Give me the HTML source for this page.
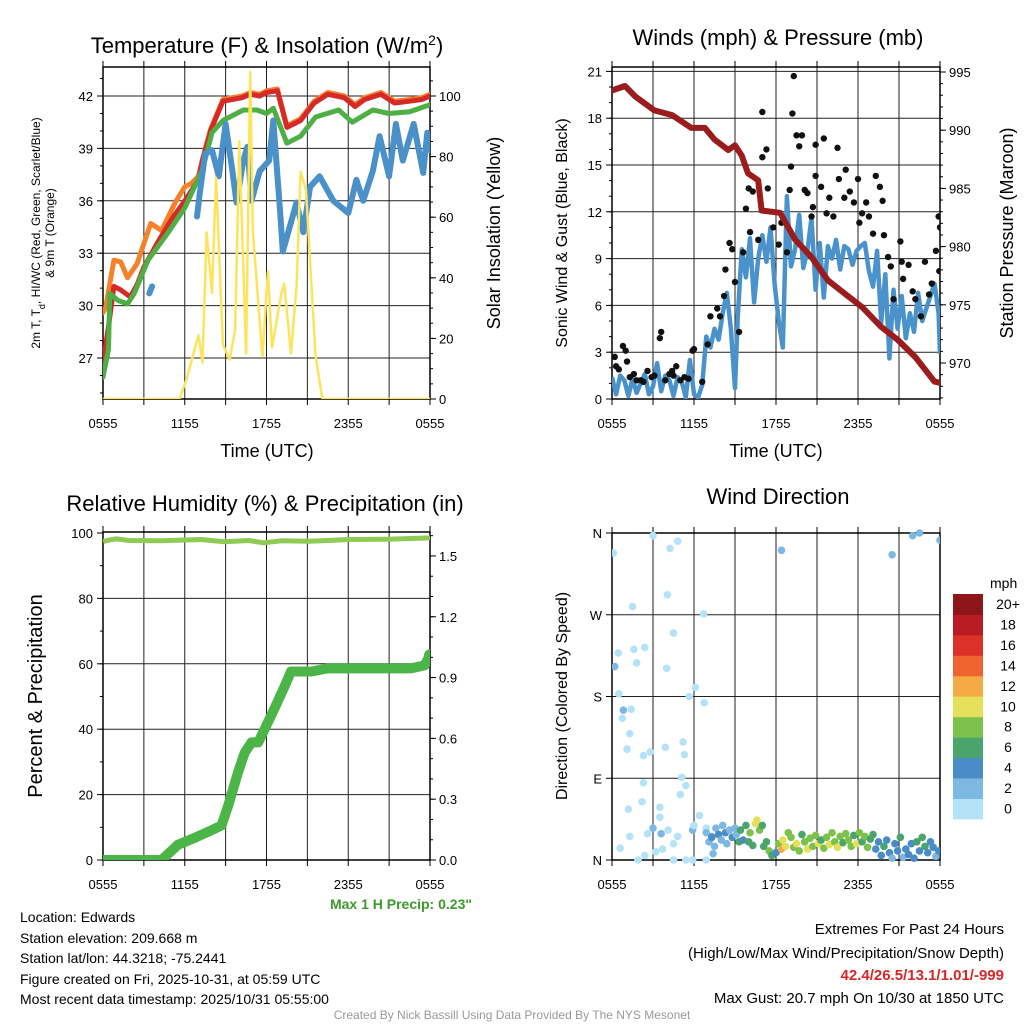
<!DOCTYPE html>
<html><head><meta charset="utf-8">
<style>
html,body{margin:0;padding:0;background:#fff;}
svg{display:block;font-family:"Liberation Sans",Arial,sans-serif;}
</style></head>
<body>
<svg id="fig" width="1024" height="1024" viewBox="0 0 1024 1024" xmlns="http://www.w3.org/2000/svg">
<defs>
<clipPath id="c1"><rect x="103" y="67" width="327" height="332"/></clipPath>
<clipPath id="c2"><rect x="612" y="67" width="328" height="332"/></clipPath>
<clipPath id="c3"><rect x="103" y="532" width="327" height="328"/></clipPath>
<clipPath id="c4"><rect x="612" y="528" width="328" height="336"/></clipPath>
</defs>
<text x="267" y="53" font-size="22" text-anchor="middle">Temperature (F) &amp; Insolation (W/m<tspan baseline-shift="super" font-size="14">2</tspan>)</text>
<text x="778" y="45" font-size="22" text-anchor="middle">Winds (mph) &amp; Pressure (mb)</text>
<text x="265" y="511" font-size="22" text-anchor="middle">Relative Humidity (%) &amp; Precipitation (in)</text>
<text x="778" y="504" font-size="22" text-anchor="middle">Wind Direction</text>

<text transform="translate(40,233) rotate(-90)" font-size="12" text-anchor="middle">2m T, T<tspan baseline-shift="sub" font-size="9">d</tspan>, HI/WC (Red, Green, Scarlet/Blue)</text>
<text transform="translate(54,233) rotate(-90)" font-size="12" text-anchor="middle">&amp; 9m T (Orange)</text>
<text transform="translate(500,233) rotate(-90)" font-size="18" text-anchor="middle">Solar Insolation (Yellow)</text>
<text x="267" y="457" font-size="18" text-anchor="middle">Time (UTC)</text>
<text transform="translate(567,233) rotate(-90)" font-size="16" text-anchor="middle">Sonic Wind &amp; Gust (Blue, Black)</text>
<text transform="translate(1013,233) rotate(-90)" font-size="18" text-anchor="middle">Station Pressure (Maroon)</text>
<text x="776" y="457" font-size="18" text-anchor="middle">Time (UTC)</text>
<text transform="translate(42,696) rotate(-90)" font-size="20" text-anchor="middle">Percent &amp; Precipitation</text>
<text transform="translate(567,696) rotate(-90)" font-size="16" text-anchor="middle">Direction (Colored By Speed)</text>

<text x="472" y="909" font-size="14" font-weight="bold" fill="#3a9a2a" text-anchor="end">Max 1 H Precip: 0.23"</text>
<g font-size="14">
<text x="20" y="922">Location: Edwards</text>
<text x="20" y="943">Station elevation: 209.668 m</text>
<text x="20" y="963">Station lat/lon: 44.3218; -75.2441</text>
<text x="20" y="984">Figure created on Fri, 2025-10-31, at 05:59 UTC</text>
<text x="20" y="1004">Most recent data timestamp: 2025/10/31 05:55:00</text>
</g>
<g font-size="15" text-anchor="end">
<text x="1004" y="934">Extremes For Past 24 Hours</text>
<text x="1004" y="958">(High/Low/Max Wind/Precipitation/Snow Depth)</text>
<text x="1004" y="980" font-weight="bold" fill="#d62728">42.4/26.5/13.1/1.01/-999</text>
<text x="1004" y="1003">Max Gust: 20.7 mph On 10/30 at 1850 UTC</text>
</g>
<text x="512" y="1019" font-size="12" fill="#999" text-anchor="middle">Created By Nick Bassill Using Data Provided By The NYS Mesonet</text>
<g id="layer"></g>
</svg>
<script>
// ---- data (hours since 05:55 UTC) ----
const timeTicks = ["0555","1155","1755","2355","0555"];
const tempTicks = [27,30,33,36,39,42];
const solarTicks = [0,20,40,60,80,100];
const windTicks = [0,3,6,9,12,15,18,21];
const presTicks = [970,975,980,985,990,995];
const rhTicks = [0,20,40,60,80,100];
const precipTicks = [0.0,0.3,0.6,0.9,1.2,1.5];
const dirTicks = ["N","E","S","W","N"];

const orangeT = [0,0.2,0.8,1.3,1.8,2.5,3.5,4.3,5.3,6.0,6.5,7.0,7.3,7.9,8.8,9.5,10.2,10.8,11.5,12.0,12.8,13.5,14.5,15.5,16.5,17.7,18.5,19.2,20.4,21.4,22.5,23.4,24];
const orangeV = [29.6,29.9,32.6,32.5,31.6,32.4,34.7,34.3,35.9,36.8,37.0,37.4,38.4,40.1,41.8,41.9,42.0,42.2,42.1,42.3,42.4,40.3,40.7,41.7,42.2,42.0,41.5,41.9,42.2,41.7,41.8,41.9,42.1];
const redT = [0,0.4,0.8,1.3,2.0,2.5,3.0,4.0,5.0,6.0,7.0,7.3,7.9,8.8,9.5,10.2,10.8,11.5,12.0,12.8,13.5,14.5,15.5,16.5,17.7,18.5,19.2,20.4,21.4,22.5,23.4,24];
const redV = [26.7,28.8,31.1,30.9,30.5,31.2,32.2,33.6,34.9,36.0,37.2,38.3,40.0,41.7,41.8,41.9,42.1,42.0,42.2,42.3,40.2,40.6,41.6,42.1,41.9,41.4,41.8,42.1,41.6,41.7,41.8,42.0];
const greenT = [0,0.4,0.5,1.1,1.8,2.3,3.3,4.8,6.0,7.3,8.0,8.8,10.3,11.3,12.0,12.5,13.5,14.5,15.6,17.3,18.3,19.8,21.0,22.5,24];
const greenV = [25.9,27.5,30.7,30.3,30.1,30.7,32.6,34.2,35.6,37.8,39.9,40.6,41.2,41.2,41.0,41.3,39.3,39.7,40.8,41.2,40.5,41.2,41.0,41.1,41.5];
const chillT = [6.9,7.1,7.5,8.0,8.5,9.0,9.5,9.8,10.3,10.6,10.9,11.5,12.2,12.5,13.0,13.2,13.7,14.2,14.7,15.2,15.9,16.9,18.0,18.6,19.1,19.8,20.3,21.0,21.5,22.0,22.8,23.5,23.8,24];
const chillV = [35.1,36.4,38.7,38.9,37.4,40.4,37.7,35.9,38.3,39.1,36.0,37.7,38.3,40.6,35.4,33.1,34.5,35.9,34.2,36.8,37.4,36.0,35.3,37.2,36.0,37.7,39.7,37.4,40.4,38.3,40.4,37.6,39.9,38.9];
const chillBlipT = [3.4,3.6];
const chillBlipV = [30.7,31.1];
const solarT = [0,5.6,6.1,6.7,7.0,7.3,7.6,8.0,8.3,8.8,9.3,9.7,10.0,10.5,10.8,11.0,11.7,12.1,12.4,13.1,13.3,13.8,14.2,14.5,14.9,15.6,16.1,24];
const solarV = [0,0,6,16,21,12,55,35,73,18,13,23,85,15,108,55,14,42,17,35,38,15,37,75,69,14,0,0];

const sonicT = [0,0.3,0.6,0.9,1.2,1.5,1.8,2.1,2.4,2.7,3.0,3.3,3.6,3.9,4.2,4.5,4.8,5.1,5.4,5.7,6.0,6.3,6.6,6.9,7.2,7.5,7.8,8.1,8.4,8.7,9.0,9.2,9.5,9.8,10.1,10.4,10.7,11.0,11.3,11.6,11.9,12.2,12.5,12.8,13.1,13.4,13.7,14.0,14.3,14.6,14.9,15.2,15.5,15.8,16.1,16.4,16.7,17.0,17.3,17.6,17.9,18.2,18.5,18.8,19.1,19.4,19.7,20.0,20.3,20.6,20.9,21.2,21.5,21.8,22.1,22.4,22.7,23.0,23.3,23.6,23.9,24];
const sonicV = [1.4,0.3,1.5,1.2,0.2,1.3,0.4,1.0,1.6,0.3,0.8,2.3,0.5,1.5,1.2,0.2,1.4,1.1,0.1,2.5,0.3,0.1,0.9,4.0,3.3,4.5,3.8,5.5,6.8,4.5,0.7,5.2,9.6,7.8,10.3,6.2,9.0,10.5,8.8,11.0,7.4,5.0,3.3,13.0,8.5,9.6,11.8,8.4,9.5,11.6,7.0,10.0,6.5,9.8,9.0,10.2,8.3,9.8,9.6,8.6,9.5,9.8,10.0,8.2,7.2,9.5,4.9,8.0,2.6,7.0,4.5,6.6,3.9,5.5,4.3,6.8,5.0,5.8,6.6,7.4,5.5,2.9];
const gustT = [0.2,0.3,0.8,1.0,1.1,1.6,1.8,2.1,2.6,3.1,3.5,3.6,3.9,4.4,4.5,4.7,5.0,5.3,5.9,6.0,6.6,7.0,7.2,7.7,7.9,8.2,8.3,8.6,8.8,9.0,9.3,9.6,9.8,10.0,10.1,10.3,10.7,11.0,11.3,11.0,11.4,11.8,12.2,12.4,12.8,13.0,13.1,13.2,13.3,13.5,13.7,13.9,14.1,14.3,14.6,14.7,14.9,14.9,15.3,15.5,15.7,15.9,16.2,16.5,16.6,17.0,17.1,17.4,17.7,18.0,18.1,18.3,18.6,18.8,19.1,19.3,19.6,19.8,19.9,20.2,20.4,20.6,21.1,21.2,21.3,21.7,22.0,22.2,22.6,22.9,23.2,23.4,23.7,23.9,24.0,23.95,0.5,1.3,2.3,2.9,4.2,5.6];
const gustV = [2.7,2.1,3.4,3.1,2.4,1.6,1.2,1.2,1.8,1.5,3.9,4.3,1.2,1.8,1.5,2.1,1.2,1.4,3.1,3.2,1.1,3.5,5.3,5.8,5.3,6.6,8.3,10.0,9.6,7.5,4.3,9.4,12.2,13.5,10.7,13.3,10.2,15.5,16.0,18.4,13.5,11.0,9.9,11.3,9.4,13.4,14.9,18.3,20.7,16.9,16.2,16.9,13.4,13.2,11.7,12.3,16.3,14.3,13.6,16.7,11.9,12.9,11.7,16.1,14.1,12.9,14.7,13.3,12.6,14.1,11.3,11.9,12.6,11.7,10.6,14.3,13.6,12.7,10.5,9.1,8.5,6.4,10.1,8.8,7.7,8.6,6.9,6.4,5.3,8.8,6.7,7.4,9.5,11.7,11.0,8.2,1.9,1.4,1.1,1.4,1.6,1.3];
const presT = [0,0.2,0.95,1.7,3.1,4.4,5.8,6.8,7.5,8.5,9.0,9.5,9.95,10.7,10.95,12.3,13.4,14.6,15.8,17.0,18.3,19.7,20.9,22.2,23.6,24];
const presV = [993.4,993.5,993.8,992.9,991.7,991.3,990.2,990.2,989.2,988.3,988.7,987.8,986.3,985.7,983.1,982.9,980.6,979.1,977.1,976.0,974.8,973.1,972.0,970.5,968.4,968.3];

const rhT = [0,0.5,1.0,1.9,4.3,7.2,8.9,10.7,11.8,13.1,15.1,16.5,18.0,20.9,24];
const rhV = [97.4,97.9,98.2,97.7,97.6,98.0,97.3,97.7,97.0,97.6,97.5,97.7,98.0,98.1,98.5];
const precipT = [0,4.3,5.5,6.75,8.0,8.7,9.2,9.9,10.4,10.9,11.4,11.9,12.6,13.35,13.8,15.3,16.5,22.6,23.6,24];
const precipV = [0,0,0.075,0.11,0.148,0.17,0.27,0.43,0.53,0.58,0.58,0.65,0.75,0.86,0.93,0.93,0.945,0.945,0.96,1.01];

const dirT = [0.1,3.0,4.24,4.8,4.05,1.5,6.7,4.5,0.46,1.6,2.4,0.2,4.0,1.8,6.1,0.5,5.65,6.75,0.83,1.4,0.76,1.3,1.1,2.3,2.8,3.9,5.2,5.3,5.1,5.4,2.3,5.0,2.2,1.2,3.5,3.5,6.4,3.0,2.6,3.6,4.1,4.8,4.5,1.3,0.6,2.4,1.9,3.2,3.7,4.5,5.4,5.9,6.9,5.9,6.0,6.9,7.3,7.4,12.4,20.5,22.0,22.5,24.0,
6.9,7.1,7.3,7.5,7.6,7.8,8.0,8.1,8.3,8.4,8.6,8.8,9.0,9.1,9.3,9.4,9.6,9.8,10.0,10.1,10.3,10.5,10.6,10.8,11.0,11.1,11.3,11.5,11.7,12.0,12.2,12.4,12.5,12.7,12.9,13.1,13.3,13.5,13.7,13.9,14.1,14.3,14.5,14.7,14.9,15.1,15.3,15.5,15.7,15.9,16.1,16.3,16.5,16.7,16.9,17.1,17.3,17.5,17.7,17.9,18.1,18.3,18.5,18.7,18.9,19.1,19.3,19.5,19.7,19.9,20.1,20.3,20.5,20.7,20.9,21.1,21.3,21.5,21.7,21.9,22.1,22.3,22.5,22.7,22.9,23.1,23.3,23.5,23.7,23.9];
const dirDeg = [338,357,343,351,292,279,271,250,228,232,234,213,211,217,190,183,180,173,165,166,156,139,122,115,119,124,130,116,91,82,85,72,64,56,58,47,49,35,29,29,33,26,18,26,13,5,0,9,12,0,0,0,0,33,38,35,26,7,341,336,357,360,352,
30,20,25,15,35,28,22,38,30,18,33,25,35,28,20,33,22,38,20,30,16,40,44,33,38,15,20,10,5,8,18,12,22,15,30,25,14,18,10,28,20,12,24,15,27,18,22,13,25,17,30,20,14,26,19,29,22,15,27,18,30,20,26,14,23,28,12,20,5,15,22,8,2,18,10,25,3,12,6,18,2,20,10,25,15,8,20,14,4,10];
const dirSpd = [1,1,1,1,1,1,1,1,1,1,1,3,1,1,1,1,1,1,3,1,1,1,1,1,1,1,1,1,1,1,1,1,1,1,1,1,1,3,1,3,1,1,1,1,1,1,1,1,1,1,1,1,1,3,1,1,3,3,3,3,3,3,3,
3,3,4,3,3,4,3,3,4,3,3,4,3,3,6,7,5,6,7,8,6,10,11,9,7,7,6,9,6,5,8,13,10,11,8,8,9,10,9,7,8,10,9,8,8,10,7,9,8,11,8,9,10,8,7,8,9,8,7,10,8,7,9,8,7,6,4,5,4,6,4,5,3,5,4,7,3,4,4,5,4,6,4,7,6,4,5,4,3,5];
const speedBinLabels = ["0","2","4","6","8","10","12","14","16","18","20+"];
const speedBinColors = ["#b4e3f8","#7db8e2","#4a8dc6","#4aa46b","#7bc14b","#e5e05a","#f6aa45","#ef642f","#dc3128","#ba1c24","#8e1519"];

// ---- helpers ----
const NS = "http://www.w3.org/2000/svg";
const layer = document.getElementById('layer');
function mk(tag, attrs, parent){
  const e = document.createElementNS(NS, tag);
  for (const k in attrs) e.setAttribute(k, attrs[k]);
  (parent||layer).appendChild(e);
  return e;
}
function makeX(x0,x1){ return h => x0 + h/24*(x1-x0); }
function pathFrom(ts, vs, sx, sy){
  let d = "";
  for (let i=0;i<ts.length && i<vs.length;i++) d += (i?"L":"M") + sx(ts[i]).toFixed(1) + "," + sy(vs[i]).toFixed(1);
  return d;
}
function frame(P){
  const g = mk('g', {});
  
  
  for (let h=3; h<24; h+=3){
    const x = P.sx(h);
    const l = mk('line', {x1:x, x2:x, y1:P.y0, y2:P.y1, stroke:'#222', 'stroke-width':1}, g);
    
    
  }
  for (let h=0; h<=24; h+=3){
    const x = P.sx(h);
    mk('line', {x1:x,x2:x,y1:P.y1,y2:P.y1+6,stroke:'#000','stroke-width':1}, g);
    mk('line', {x1:x,x2:x,y1:P.y0,y2:P.y0-6,stroke:'#000','stroke-width':1}, g);
  }
  timeTicks.forEach((lab,i)=>{
    const t = mk('text', {x:P.sx(i*6), y:P.y1+29, 'font-size':13, 'text-anchor':'middle'}, g);
    t.textContent = lab;
    
    
  });
  P.leftTicks.forEach((v,i)=>{
    const y = P.ly(v, i);
    if (y > P.y0+1 && y < P.y1-1) {
      const l = mk('line', {x1:P.x0, x2:P.x1, y1:y, y2:y, stroke:'#222','stroke-width':1}, g);
      
      
    }
    mk('line', {x1:P.x0-6,x2:P.x0,y1:y,y2:y,stroke:'#000','stroke-width':1}, g);
    const t = mk('text', {x:P.x0-10, y:y+5, 'font-size':13, 'text-anchor':'end'}, g);
    t.textContent = P.leftFmt ? P.leftFmt(v) : v;
    
    
  });
  if (P.leftMinor) P.leftMinor.forEach(y=>mk('line', {x1:P.x0-3,x2:P.x0,y1:y,y2:y,stroke:'#000'}, g));
  if (P.rightTicks){
    P.rightTicks.forEach(v=>{
      const y = P.ry(v);
      mk('line', {x1:P.x1,x2:P.x1+6,y1:y,y2:y,stroke:'#000','stroke-width':1}, g);
      const t = mk('text', {x:P.x1+9, y:y+5, 'font-size':13, 'text-anchor':'start'}, g);
      t.textContent = P.rightFmt ? P.rightFmt(v) : v;
      
      
    });
    if (P.rightMinor) P.rightMinor.forEach(y=>mk('line', {x1:P.x1,x2:P.x1+3,y1:y,y2:y,stroke:'#000'}, g));
  }
  const r = mk('rect', {x:P.x0, y:P.y0, width:P.x1-P.x0, height:P.y1-P.y0, fill:'none', stroke:'#000', 'stroke-width':1.5}, g);
  
  
}
function range(a,b,s){ const o=[]; for(let v=a; v<=b+1e-9; v+=s) o.push(v); return o; }

// ---- panel 1: temperature ----
const sx1 = makeX(103,430);
const yT = v => 358 - (v-27)*17.4667;
const yS = v => 399 - v*3.03;
frame({name:'temperature', x0:103,x1:430,y0:67,y1:399,sx:sx1,leftTicks:tempTicks,ly:yT,rightTicks:solarTicks,ry:yS,
  leftMinor: range(25,43,1).map(yT).filter(y=>y>67&&y<399),
  rightMinor: range(0,105,5).map(yS).filter(y=>y>=67)});
const g1 = mk('g', {'clip-path':'url(#c1)'});


[[orangeT,orangeV,'#f5822a','orange-9m-temp-line',5],[redT,redV,'#d62a28','red-2m-temp-line',5],[greenT,greenV,'#4daf44','green-dewpoint-line',5],[chillT,chillV,'#4a90c9','blue-wind-chill-line',6],[chillBlipT,chillBlipV,'#4a90c9','blue-wind-chill-blip',6]].forEach(s=>{
  const p = mk('path', {d:pathFrom(s[0],s[1],sx1,yT), fill:'none', stroke:s[2], 'stroke-width':s[4], 'stroke-linejoin':'round','stroke-linecap':'round'}, g1);
  
  
});
const sp = mk('path', {d:pathFrom(solarT,solarV,sx1,yS), fill:'none', stroke:'#fde45c', 'stroke-width':2.5, 'stroke-linejoin':'round'}, g1);



// ---- panel 2: winds ----
const sx2 = makeX(612,940);
const yW = v => 399 - v*15.6;
const yP = v => 363 - (v-970)*11.64;
frame({name:'winds', x0:612,x1:940,y0:67,y1:399,sx:sx2,leftTicks:windTicks,ly:yW,rightTicks:presTicks,ry:yP,
  leftMinor: range(0,21,1).map(yW),
  rightMinor: range(967,995,1).map(yP).filter(y=>y>67&&y<399)});
const g2 = mk('g', {'clip-path':'url(#c2)'});


const sw = mk('path', {d:pathFrom(sonicT,sonicV,sx2,yW), fill:'none', stroke:'#4a92cc', 'stroke-width':4.5, 'stroke-linejoin':'round'}, g2);


gustT.forEach((t,i)=>{
  const c = mk('circle', {cx:sx2(t), cy:yW(gustV[i]), r:3.2, fill:'#111'}, g2);
  
  
});
const pp = mk('path', {d:pathFrom(presT,presV,sx2,yP), fill:'none', stroke:'#9b1c1c', 'stroke-width':6, 'stroke-linejoin':'round','stroke-linecap':'round'}, g2);



// ---- panel 3: humidity ----
const sx3 = makeX(103,430);
const yR = v => 860 - v*3.27;
const yPr = v => 860 - v*202.7;
frame({name:'humidity', x0:103,x1:430,y0:532,y1:860,sx:sx3,leftTicks:rhTicks,ly:yR,rightTicks:precipTicks,ry:yPr,rightFmt:v=>v.toFixed(1),
  leftMinor: range(0,100,10).map(yR),
  rightMinor: range(0,1.6,0.1).map(yPr).filter(y=>y>=532)});
const g3 = mk('g', {'clip-path':'url(#c3)'});


const rp = mk('path', {d:pathFrom(rhT,rhV,sx3,yR), fill:'none', stroke:'#8fca55', 'stroke-width':5, 'stroke-linejoin':'round'}, g3);


const prp = mk('path', {d:pathFrom(precipT,precipV,sx3,yPr), fill:'none', stroke:'#4bb548', 'stroke-width':10, 'stroke-linejoin':'round','stroke-linecap':'round'}, g3);


const pe = mk('circle', {cx:sx3(precipT[precipT.length-1]), cy:yPr(precipV[precipV.length-1]), r:6, fill:'#4bb548'}, g3);



// ---- panel 4: wind direction ----
const sx4 = makeX(612,940);
const yD = d => 860 - d/360*327;
frame({name:'wind-direction', x0:612,x1:940,y0:533,y1:860,sx:sx4,leftTicks:dirTicks,ly:(v,i)=>yD(i*90),leftFmt:v=>v});
const g4 = mk('g', {'clip-path':'url(#c4)'});


dirT.forEach((t,i)=>{
  const s = dirSpd[i];
  const bin = Math.min(10, Math.floor(s/2));
  const c = mk('circle', {cx:sx4(t), cy:yD(dirDeg[i]), r:3.8, fill:speedBinColors[bin]}, g4);
  
  
});
const cb = mk('g', {});


const mt = mk('text', {x:990, y:588, 'font-size':14}, cb);
mt.textContent = 'mph';
speedBinLabels.forEach((lab,i)=>{
  const y = 594 + (10-i)*20.45;
  const r = mk('rect', {x:953, y:y, width:30, height:20.9, fill:speedBinColors[i]}, cb);
  
  
  const t = mk('text', {x:1008, y:y+15, 'font-size':14, 'text-anchor':'middle'}, cb);
  t.textContent = lab;
  
  
});
</script>
</body></html>
